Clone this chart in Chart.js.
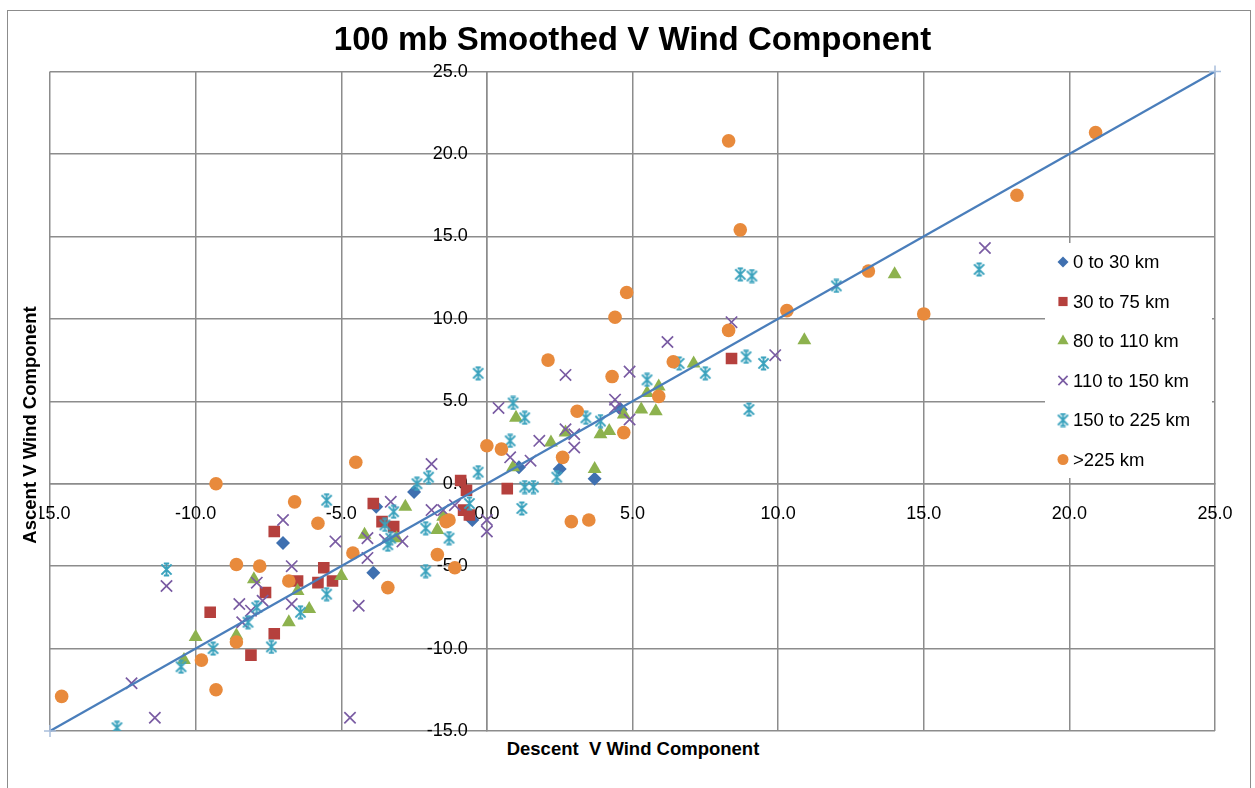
<!DOCTYPE html>
<html>
<head>
<meta charset="utf-8">
<script src="https://cdn.jsdelivr.net/npm/chart.js@4/dist/chart.umd.min.js"></script>
<style>
  html, body { margin: 0; padding: 0; background: #fff; }
  #wrap { position: relative; width: 1255px; height: 788px; overflow: hidden; font-family: 'Liberation Sans', Arial, sans-serif; }
  #frame { position: absolute; left: 7px; top: 10px; width: 1242px; height: 800px; border: 1px solid #8c8c8c; pointer-events: none; }
  .axis-title { position: absolute; font-weight: bold; font-size: 18.5px; color: #000; background: #fff; white-space: pre; line-height: 21px; }
  #xTitle { left: 633px; top: 738px; transform: translateX(-50%); }
  #yTitle { left: 29px; top: 425px; transform: translate(-50%, -50%) rotate(-90deg); }
</style>
</head>
<body>
<div id="wrap">
  <canvas id="chartCanvas" width="1255" height="788"></canvas>
  <div id="xTitle" class="axis-title">Descent  V Wind Component</div>
  <div id="yTitle" class="axis-title">Ascent V Wind Component</div>
  <div id="frame"></div>
</div>
<script>
// Series names as in the legend
const seriesNames = ['0 to 30 km', '30 to 75 km', '80 to 110 km', '110 to 150 km', '150 to 225 km', '>225 km'];

// [descent, ascent] pairs
const s0to30 = [[-7.0,-3.6],[-3.8,-1.4],[-3.9,-5.4],[-2.5,-0.5],[-0.5,-2.2],[1.1,1.0],[2.5,0.9],[3.7,0.3],[4.6,4.5]];
const s30to75 = [[-9.5,-7.8],[-8.1,-10.4],[-7.6,-6.6],[-7.3,-9.1],[-7.3,-2.9],[-6.5,-5.9],[-5.6,-5.1],[-5.8,-6.0],[-5.3,-5.9],
  [-3.9,-1.2],[-3.6,-2.3],[-3.2,-2.6],[-0.9,0.2],[-0.7,-0.4],[-0.8,-1.6],[-0.6,-1.9],[0.7,-0.3],[8.4,7.6]];
const s80to110 = [[-10.4,-10.7],[-10.0,-9.3],[-8.6,-9.2],[-8.0,-5.8],[-6.8,-8.4],[-6.5,-6.5],[-6.1,-7.6],[-5.0,-5.6],[-4.2,-3.1],
  [-3.1,-3.3],[-2.8,-1.4],[-1.7,-2.8],[-1.5,-2.0],[0.9,1.0],[1.0,4.0],[2.2,2.5],[2.7,3.1],[3.7,0.9],[3.9,3.0],[4.2,3.2],
  [4.7,4.2],[5.3,4.5],[5.8,4.4],[5.5,5.5],[5.9,5.9],[7.1,7.3],[10.9,8.7],[14.0,12.7]];
const s110to150 = [[-12.2,-12.1],[-11.4,-14.2],[-11.0,-6.2],[-8.5,-7.3],[-8.1,-7.7],[-8.4,-8.4],[-7.9,-6.0],[-7.7,-7.1],[-7.0,-2.2],
  [-6.7,-5.0],[-6.7,-7.3],[-5.2,-3.5],[-4.7,-14.2],[-4.4,-7.4],[-4.1,-3.3],[-4.1,-4.5],[-3.5,-3.4],[-3.3,-1.1],[-2.9,-3.5],
  [-1.9,1.2],[-1.9,-1.6],[-1.5,-1.6],[-1.1,-1.3],[0.0,-2.2],[0.0,-2.9],[0.4,4.6],[0.8,1.6],[1.5,1.4],[1.8,2.6],[2.7,6.6],
  [2.7,3.3],[3.0,3.0],[3.0,2.2],[4.4,5.1],[4.4,4.6],[4.9,6.8],[4.9,3.9],[6.2,8.6],[8.4,9.8],[9.9,7.8],[17.1,14.3]];
const s150to225 = [[-12.7,-14.8],[-11.0,-5.2],[-10.5,-11.1],[-9.4,-10.0],[-8.2,-8.4],[-7.9,-7.5],[-7.4,-9.9],[-6.4,-7.8],[-5.5,-6.7],
  [-5.5,-1.0],[-3.5,-2.5],[-3.2,-1.7],[-3.3,-3.3],[-3.4,-3.7],[-2.4,0.0],[-2.0,0.4],[-2.1,-2.7],[-2.1,-5.3],[-1.3,-3.3],
  [-0.6,-1.2],[-0.3,0.7],[-0.3,6.7],[0.9,4.9],[1.3,4.0],[0.8,2.6],[1.3,-0.2],[1.6,-0.2],[1.2,-1.5],[2.4,0.4],[3.4,4.0],
  [3.9,3.8],[5.5,6.3],[6.6,7.3],[7.5,6.7],[8.7,12.7],[9.1,12.6],[8.9,7.7],[9.5,7.3],[9.0,4.5],[12.0,12.0],[16.9,13.0]];
const sOver225 = [[-14.6,-12.9],[-9.8,-10.7],[-9.3,-12.5],[-9.3,0.0],[-8.6,-9.6],[-8.6,-4.9],[-7.8,-5.0],[-6.8,-5.9],[-6.6,-1.1],
  [-5.8,-2.4],[-4.6,-4.2],[-4.5,1.3],[-3.4,-6.3],[-1.7,-4.3],[-1.4,-2.3],[-1.3,-2.2],[-1.1,-5.1],[0.0,2.3],[0.5,2.1],
  [2.1,7.5],[2.6,1.6],[2.9,-2.3],[3.1,4.4],[3.5,-2.2],[4.3,6.5],[4.4,10.1],[4.7,3.1],[4.8,11.6],[5.9,5.3],[6.4,7.4],
  [8.3,9.3],[8.3,20.8],[8.7,15.4],[10.3,10.5],[13.1,12.9],[15.0,10.3],[18.2,17.5],[20.9,21.3]];

// 1:1 reference line end points
const refLine = [[-15,-15],[25,25]];

// axis range / ticks
const axisMin = -15;
const axisMax = 25;
const tickStep = 5;

const fontFamily = "'Liberation Sans', Arial, sans-serif";
const gridColor = '#8c8c8c';

// Excel style asterisk marker
function makeStar(color, size) {
  const cv = document.createElement('canvas');
  cv.width = size; cv.height = size;
  const g = cv.getContext('2d');
  const m = size / 2, r = size / 2 - 1.5;
  g.strokeStyle = color;
  g.lineWidth = 2;
  g.beginPath();
  g.moveTo(m - r * 0.85, m - r * 0.85); g.lineTo(m + r * 0.85, m + r * 0.85);
  g.moveTo(m + r * 0.85, m - r * 0.85); g.lineTo(m - r * 0.85, m + r * 0.85);
  g.moveTo(m, m - r); g.lineTo(m, m + r);
  g.moveTo(m - r * 0.45, m - r); g.lineTo(m + r * 0.45, m - r);
  g.moveTo(m - r * 0.45, m + r); g.lineTo(m + r * 0.45, m + r);
  g.stroke();
  return cv;
}

const toPoints = arr => arr.map(p => ({ x: p[0], y: p[1] }));

const styles = [
  { color: '#3f70b0', pointStyle: 'rectRot', radius: 7, legendRadius: 5.5, borderWidth: 0 },
  { color: '#b5403d', pointStyle: 'rect', radius: 8.2, legendRadius: 6.5, borderWidth: 0 },
  { color: '#8db24e', pointStyle: 'triangle', radius: 8, legendRadius: 6.5, borderWidth: 0 },
  { color: '#7a5ca3', pointStyle: 'crossRot', radius: 8, legendRadius: 6.5, borderWidth: 1.7 },
  { color: '#3aa2bd', pointStyle: makeStar('#3aa2bd', 15), radius: 7.5, legendRadius: 6, borderWidth: 0 },
  { color: '#e88a3c', pointStyle: 'circle', radius: 6.8, legendRadius: 5.5, borderWidth: 0 }
];

const seriesData = [s0to30, s30to75, s80to110, s110to150, s150to225, sOver225];

const datasets = seriesData.map((arr, i) => ({
  label: seriesNames[i],
  data: toPoints(arr),
  backgroundColor: styles[i].color,
  borderColor: styles[i].color,
  pointStyle: styles[i].pointStyle,
  pointRadius: styles[i].radius,
  borderWidth: styles[i].borderWidth,
  order: seriesData.length - i
}));

datasets.push({
  type: 'line',
  label: 'line',
  data: toPoints(refLine),
  borderColor: '#4a7ebb',
  borderWidth: 2.25,
  pointStyle: 'cross',
  pointRadius: 6,
  pointBorderColor: '#a9bfdc',
  pointBorderWidth: 1.5,
  fill: false,
  clip: false,
  order: 0
});

// y labels sit on the x=0 line; push them left of it like Excel does
const shiftYLabels = {
  id: 'shiftYLabels',
  beforeDraw(chart) {
    const items = chart.scales.y.getLabelItems(chart.chartArea);
    if (items._shifted) return;
    items.forEach(item => { item.options.translation[0] -= 19; });
    items._shifted = true;
  }
};

// legend drawn on a white box at the right, like the Excel one
const excelLegend = {
  id: 'excelLegend',
  afterDraw(chart) {
    const c = chart.ctx;
    c.save();
    c.fillStyle = '#fff';
    c.fillRect(1045, 243, 167, 235);
    c.font = '18.5px ' + fontFamily;
    c.textBaseline = 'middle';
    c.textAlign = 'left';
    seriesNames.forEach((name, i) => {
      const y = 262 + i * 39.5;
      const st = styles[i];
      c.fillStyle = st.color;
      c.strokeStyle = st.color;
      c.lineWidth = st.borderWidth;
      Chart.helpers.drawPoint(c, {
        pointStyle: st.pointStyle,
        radius: st.legendRadius,
        borderWidth: st.borderWidth,
        rotation: 0
      }, 1063, y);
      c.fillStyle = '#000';
      c.fillText(name, 1073, y + 1);
    });
    c.restore();
  }
};

const ctx = document.getElementById('chartCanvas').getContext('2d');

new Chart(ctx, {
  type: 'scatter',
  data: { datasets },
  options: {
    responsive: false,
    animation: false,
    layout: { padding: { left: 50, right: 40, top: 10, bottom: 57 } },
    plugins: {
      legend: { display: false },
      tooltip: { enabled: false },
      title: {
        display: true,
        text: '100 mb Smoothed V Wind Component',
        color: '#000',
        font: { family: fontFamily, size: 33, weight: 'bold' },
        padding: { top: 11, bottom: 11 }
      }
    },
    scales: {
      x: {
        type: 'linear',
        position: { y: 0 },
        min: axisMin,
        max: axisMax,
        ticks: {
          stepSize: tickStep,
          callback: v => v.toFixed(1),
          color: '#000',
          font: { family: fontFamily, size: 18 },
          padding: 20,
          maxRotation: 0,
          autoSkip: false
        },
        grid: { color: gridColor, lineWidth: 1.5, drawTicks: false },
        border: { color: gridColor, width: 1.5 }
      },
      y: {
        type: 'linear',
        position: { x: 0 },
        min: axisMin,
        max: axisMax,
        ticks: {
          stepSize: tickStep,
          callback: v => v.toFixed(1),
          color: '#000',
          font: { family: fontFamily, size: 18 },
          autoSkip: false
        },
        grid: { color: gridColor, lineWidth: 1.5, drawTicks: false },
        border: { color: gridColor, width: 1.5 }
      }
    }
  },
  plugins: [shiftYLabels, excelLegend]
});
</script>
</body>
</html>
